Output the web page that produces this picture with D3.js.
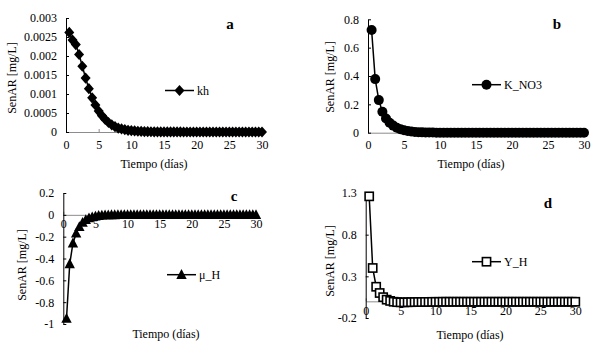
<!DOCTYPE html>
<html>
<head>
<meta charset="utf-8">
<script src="https://cdn.jsdelivr.net/npm/d3@7"></script>
<style>
  html, body { margin: 0; padding: 0; background: #fff; }
  svg { display: block; }
  svg text { font-family: "Liberation Serif", "Times New Roman", serif; fill: #000; }
</style>
</head>
<body>
<svg id="chart" width="603" height="348"></svg>
<script>
// ---------- DATA ----------
const tiempo = [0.5,1,1.5,2,2.5,3,3.5,4,4.5,5,5.5,6,6.5,7,7.5,8,8.5,9,9.5,10,
  10.5,11,11.5,12,12.5,13,13.5,14,14.5,15,15.5,16,16.5,17,17.5,18,18.5,19,19.5,20,
  20.5,21,21.5,22,22.5,23,23.5,24,24.5,25,25.5,26,26.5,27,27.5,28,28.5,29,29.5,30];

const kh = [0.00262,0.00242,0.00230,0.00204,0.00173,0.00142,0.00114,0.00090,0.00071,0.00055,
  0.00043,0.00033,0.00025,0.00019,0.00014,0.00010,0.00008,0.00006,0.000045,0.000035,
  0.000027,0.00002,0.000015,0.000012,0.000009,0.000007,0.000005,0.000004,0.000003,0.000002,
  0.000002,0.0000015,0.000001,0.000001,0.0000008,0.0000006,0.0000005,0.0000004,0.0000003,0.0000002,
  0.0000002,0.0000001,0.0000001,0.0000001,0,0,0,0,0,0,
  0,0,0,0,0,0,0,0,0,0];

const K_NO3 = [0.725,0.378,0.230,0.148,0.100,0.070,0.050,0.035,0.025,0.017,
  0.012,0.008,0.005,0.0035,0.0025,0.0017,0.0012,0.0008,0.0005,0.0003,
  0.0002,0.00015,0.0001,0.0001,0.00005,0.00005,0,0,0,0,
  0,0,0,0,0,0,0,0,0,0,
  0,0,0,0,0,0,0,0,0,0,
  0,0,0,0,0,0,0,0,0,0];

const mu_H = [-0.95,-0.45,-0.26,-0.17,-0.11,-0.07,-0.045,-0.03,-0.02,-0.013,
  -0.008,-0.005,-0.003,-0.002,-0.001,-0.001,0,0,0,0,
  0,0,0,0,0,0,0,0,0,0,
  0,0,0,0,0,0,0,0,0,0,
  0,0,0,0,0,0,0,0,0,0,
  0,0,0,0,0,0,0,0,0,0];

const Y_H = [1.26,0.40,0.175,0.10,0.05,0.02,0.005,-0.005,-0.01,-0.012,
  -0.012,-0.011,-0.01,-0.009,-0.008,-0.008,-0.007,-0.007,-0.006,-0.006,
  -0.006,-0.005,-0.005,-0.005,-0.005,-0.005,-0.005,-0.005,-0.005,-0.005,
  -0.005,-0.005,-0.005,-0.005,-0.005,-0.005,-0.005,-0.005,-0.005,-0.005,
  -0.005,-0.005,-0.005,-0.005,-0.005,-0.005,-0.005,-0.005,-0.005,-0.005,
  -0.005,-0.005,-0.005,-0.005,-0.005,-0.005,-0.005,-0.005,-0.005,-0.005];

const xTicks = [0,5,10,15,20,25,30];
const yTicksA = [0,0.0005,0.001,0.0015,0.002,0.0025,0.003];
const yLabelsA = ["0","0.0005","0.001","0.0015","0.002","0.0025","0.003"];
const yTicksB = [0,0.2,0.4,0.6,0.8];
const yLabelsB = ["0","0.2","0.4","0.6","0.8"];
const yTicksC = [0.2,0,-0.2,-0.4,-0.6,-0.8,-1];
const yLabelsC = ["0.2","0","-0.2","-0.4","-0.6","-0.8","-1"];
const yTicksD = [-0.2,0.3,0.8,1.3];
const yLabelsD = ["-0.2","0.3","0.8","1.3"];

const xTitle = "Tiempo (días)";
const yTitle = "SenAR [mg/L]";

// ---------- DRAW ----------
const svg = d3.select("#chart");
const FONT = '"Liberation Serif", "Times New Roman", serif';

const markers = {
  diamond: (g) => g.append("path").attr("d", "M0,-5.6L5,0L0,5.6L-5,0Z").attr("fill", "#000"),
  circle: (g) => g.append("circle").attr("r", 5).attr("fill", "#000"),
  triangle: (g) => g.append("path").attr("d", "M0,-5.6L5.2,4.2L-5.2,4.2Z").attr("fill", "#000"),
  square: (g) => g.append("rect").attr("x", -4.1).attr("y", -4.1).attr("width", 8.2).attr("height", 8.2)
                  .attr("fill", "#fff").attr("stroke", "#000").attr("stroke-width", 1.6)
};

function panel(cfg) {
  const x = d3.scaleLinear().domain([0, 30]).range([cfg.x0, cfg.x1]);
  const y = d3.scaleLinear().domain(cfg.yDomain).range([cfg.yBottom, cfg.yTop]);
  const g = svg.append("g");

  // x axis
  const xAxisY = cfg.xAxisAtZero ? y(0) : cfg.yBottom;
  const xa = g.append("g").attr("transform", `translate(0,${xAxisY})`)
    .call(d3.axisBottom(x).tickValues(xTicks).tickFormat(d3.format("d"))
      .tickSizeInner(-3).tickSizeOuter(0).tickPadding(cfg.xPad));
  xa.select(".domain").attr("stroke", "#8c8c8c").attr("stroke-width", 1);
  xa.selectAll(".tick line").attr("stroke", "#8c8c8c");
  xa.selectAll("text").style("font-size", "12px").style("font-family", FONT).attr("fill", "#000");

  // y axis
  const ya = g.append("g").attr("transform", `translate(${cfg.x0},0)`)
    .call(d3.axisLeft(y).tickValues(cfg.yTicks).tickFormat((d, i) => cfg.yLabels[i])
      .tickSizeInner(-3).tickSizeOuter(0).tickPadding(9));
  ya.select(".domain").attr("stroke", "#000").attr("stroke-width", 1);
  ya.selectAll(".tick line").attr("stroke", "#000");
  ya.selectAll("text").style("font-size", "12px").style("font-family", FONT).attr("fill", "#000");

  // line
  const pts = tiempo.map((t, i) => [t, cfg.values[i]]);
  g.append("path").datum(pts)
    .attr("fill", "none").attr("stroke", "#000").attr("stroke-width", 1.5)
    .attr("d", d3.line().x(d => x(d[0])).y(d => y(d[1])));

  // markers
  g.selectAll(".m").data(pts).enter().append("g")
    .attr("transform", d => `translate(${x(d[0])},${y(d[1])})`)
    .each(function() { markers[cfg.marker](d3.select(this)); });

  // legend
  const lg = g.append("g").attr("transform", `translate(${cfg.legX},${cfg.legY})`);
  lg.append("line").attr("x1", 0).attr("x2", 29).attr("y1", 0).attr("y2", 0)
    .attr("stroke", "#000").attr("stroke-width", 1.5);
  markers[cfg.marker](lg.append("g").attr("transform", "translate(14.5,0)"));
  lg.append("text").attr("x", 32).attr("y", 4).style("font-size", "12px").style("font-family", FONT).text(cfg.name);

  // titles
  g.append("text").attr("x", cfg.xtX).attr("y", cfg.xtY).attr("text-anchor", "middle")
    .style("font-size", "12px").style("font-family", FONT).text(xTitle);
  g.append("text").attr("transform", `translate(${cfg.ytX},${cfg.ytY}) rotate(-90)`)
    .attr("text-anchor", "middle").style("font-size", "12px").style("font-family", FONT).text(yTitle);
  g.append("text").attr("x", cfg.letX).attr("y", cfg.letY).attr("text-anchor", "middle")
    .style("font-size", "15px").style("font-weight", "bold").style("font-family", FONT).text(cfg.letter);
}

panel({ values: kh, name: "kh", marker: "diamond", letter: "a",
  x0: 66, x1: 262, yTop: 18, yBottom: 132, yDomain: [0, 0.003],
  yTicks: yTicksA, yLabels: yLabelsA, xAxisAtZero: false, xPad: 8,
  legX: 165, legY: 90.5, xtX: 154, xtY: 168, ytX: 16, ytY: 78, letX: 230, letY: 29 });

panel({ values: K_NO3, name: "K_NO3", marker: "circle", letter: "b",
  x0: 368, x1: 584, yTop: 19.3, yBottom: 132.7, yDomain: [0, 0.8],
  yTicks: yTicksB, yLabels: yLabelsB, xAxisAtZero: false, xPad: 8,
  legX: 472, legY: 84.7, xtX: 471, xtY: 168, ytX: 334, ytY: 77, letX: 557, letY: 29 });

panel({ values: mu_H, name: "μ_H", marker: "triangle", letter: "c",
  x0: 63.3, x1: 256, yTop: 193, yBottom: 324, yDomain: [-1, 0.2],
  yTicks: yTicksC, yLabels: yLabelsC, xAxisAtZero: true, xPad: 5,
  legX: 167, legY: 274.7, xtX: 166, xtY: 338, ytX: 26, ytY: 265, letX: 234, letY: 201 });

panel({ values: Y_H, name: "Y_H", marker: "square", letter: "d",
  x0: 365.7, x1: 575.3, yTop: 193, yBottom: 318, yDomain: [-0.2, 1.3],
  yTicks: yTicksD, yLabels: yLabelsD, xAxisAtZero: true, xPad: 5,
  legX: 472, legY: 261.7, xtX: 470, xtY: 339, ytX: 334, ytY: 261, letX: 548, letY: 208 });
</script>
</body>
</html>
